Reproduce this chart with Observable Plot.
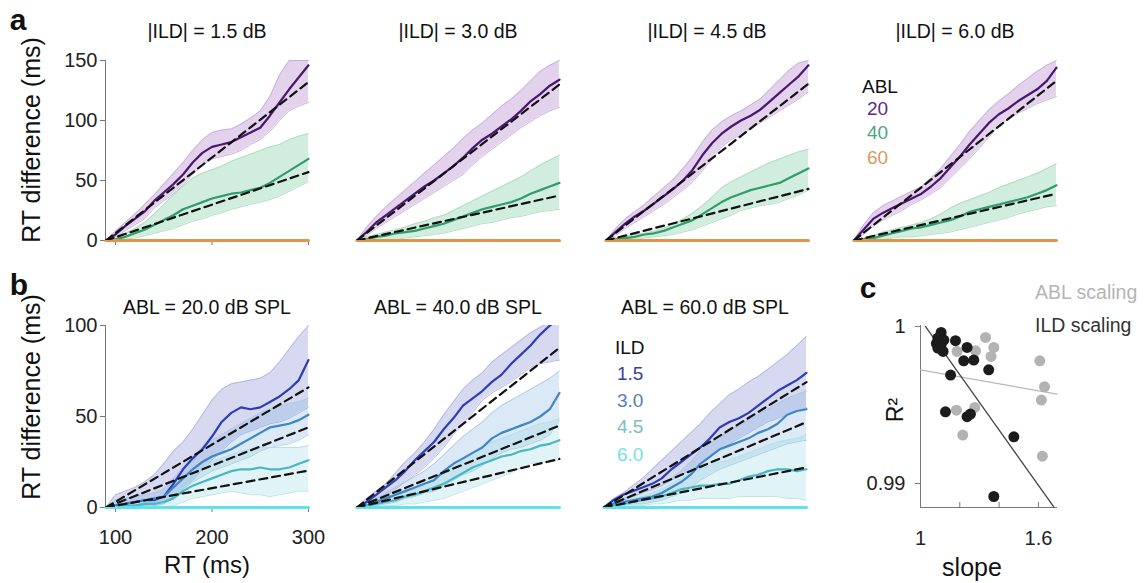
<!DOCTYPE html>
<html><head><meta charset="utf-8">
<script src="https://cdn.jsdelivr.net/npm/d3@7"></script>
<script src="https://cdn.jsdelivr.net/npm/@observablehq/plot@0.6"></script>
<style>
html,body{margin:0;padding:0;background:#fff;}
#fig{position:relative;width:1146px;height:583px;overflow:hidden;font-family:"Liberation Sans",Arial,Helvetica,sans-serif;color:#111;background:#fff;}
.t{position:absolute;white-space:nowrap;line-height:1;}
</style></head><body><div id="fig"></div>
<script>
// ---------------- DATA ----------------
const rt = [90,100,110,120,130,140,150,160,170,180,190,200,210,220,230,240,250,260,270,280,290,300];
const zeroLine = [0,0,0,0,0,0,0,0,0,0,0,0,0,0,0,0,0,0,0,0,0,0];
const fitRT = [90, 300];

// Panel a: |ILD| = 1.5, 3.0, 4.5, 6.0 ; ABL 20 (purple), 40 (green), 60 (orange, flat)
const aILD = ["1.5", "3.0", "4.5", "6.0"];
const ablLevels = ["20", "40", "60"];

const a15_20_mean = [0,5,12,18,24,33,40,47,55,65,73,78,80,82,86,90,94,104,115,126,136,146];
const a15_20_lo   = [0,3,8,13,18,27,33,39,46,55,63,68,70,72,75,80,84,91,100,108,112,115];
const a15_20_hi   = [0,8,15,22,30,38,47,56,65,75,84,90,92,93,97,102,108,120,138,150,150,150];
const a15_40_mean = [0,1,3,6,9,13,17,21,26,29,32,35,37,39,40,42,44,48,53,58,63,68];
const a15_40_lo   = [0,0,1,2,4,6,8,10,13,16,18,21,23,26,28,30,32,34,37,41,45,49];
const a15_40_hi   = [0,3,6,10,15,22,30,38,45,52,56,59,62,66,69,72,75,78,80,84,87,89];
const a15_fit20 = [0, 132];
const a15_fit40 = [0, 57];

const a30_20_mean = [0,7,15,21,27,33,39,45,50,56,62,69,77,84,89,95,101,108,116,122,129,134];
const a30_20_lo   = [0,4,10,15,20,25,30,35,40,45,50,55,63,70,76,82,88,94,99,104,108,111];
const a30_20_hi   = [0,11,20,28,35,42,49,56,63,70,77,85,92,98,105,112,118,125,133,141,146,150];
const a30_40_mean = [0,1,3,4,6,7,8,10,12,14,17,20,23,26,28,30,32,35,39,42,45,48];
const a30_40_lo   = [0,0,0,1,1,2,3,4,5,6,8,10,12,14,15,17,19,20,22,24,25,26];
const a30_40_hi   = [0,3,5,7,9,11,14,16,19,21,25,29,33,37,41,45,49,53,58,63,67,71];
const a30_fit20 = [0, 130];
const a30_fit40 = [0, 37.5];

const a45_20_mean = [0,7,14,20,25,31,37,43,50,59,71,81,89,95,100,104,109,116,123,130,137,146];
const a45_20_lo   = [0,4,10,15,20,25,30,36,42,49,58,68,78,84,88,93,98,103,108,113,118,124];
const a45_20_hi   = [0,10,18,24,30,37,44,51,60,70,82,92,99,104,108,113,118,126,134,142,148,150];
const a45_40_mean = [0,1,2,3,5,6,8,11,14,17,22,27,32,36,39,42,44,46,48,52,56,60];
const a45_40_lo   = [0,0,1,1,2,3,4,5,7,9,12,15,18,21,25,27,29,30,32,35,38,42];
const a45_40_hi   = [0,2,3,5,6,8,10,14,18,23,29,36,44,49,53,57,61,65,68,71,74,76];
const a45_fit20 = [0, 130.6];
const a45_fit40 = [0, 43];

const a60_20_mean = [0,9,18,23,27,31,35,39,45,52,61,70,80,89,98,105,110,116,121,126,133,144];
const a60_20_lo   = [0,5,12,17,21,25,30,34,39,44,52,60,68,77,86,96,101,106,110,114,117,120];
const a60_20_hi   = [0,13,23,29,33,37,41,45,52,60,70,80,91,100,109,116,122,129,135,141,146,150];
const a60_40_mean = [0,1,2,4,6,8,10,11,13,15,17,20,24,26,28,30,32,34,36,39,42,46];
const a60_40_lo   = [0,0,0,1,2,3,3,4,5,6,7,9,11,13,15,17,19,22,24,26,28,29];
const a60_40_hi   = [0,2,4,7,9,11,13,15,18,22,27,31,34,37,40,44,47,50,53,56,60,64];
const a60_fit20 = [0, 133];
const a60_fit40 = [0, 39];

// Panel b: ABL = 20, 40, 60 dB SPL ; ILD 1.5, 3.0, 4.5, 6.0 (flat)
const bABL = ["20.0", "40.0", "60.0"];
const ildLevels = ["1.5", "3.0", "4.5", "6.0"];

const b20_15_mean = [0,1,2,3,4,4,6,13,21,27,32,39,47,52,55,54,55,58,61,65,70,81];
const b20_15_lo   = [0,0,0,0,0,1,2,5,10,15,21,26,31,36,40,42,44,46,47,49,52,55];
const b20_15_hi   = [0,7,9,11,14,18,24,31,36,43,51,59,65,68,69,70,71,74,80,87,94,100];
const b20_30_mean = [0,1,2,3,4,5,6,11,16,21,25,28,30,32,35,38,41,44,45,46,48,51];
const b20_30_lo   = [0,0,0,0,1,2,3,6,10,14,17,20,22,24,26,28,31,33,34,35,37,40];
const b20_30_hi   = [0,4,5,6,7,8,10,16,22,28,33,37,40,43,46,49,52,54,56,57,58,60];
const b20_45_mean = [0,0,1,1,2,2,3,5,9,12,14,16,18,20,21,21,22,21,21,22,24,26];
const b20_45_lo   = [0,0,0,0,0,0,0,1,3,5,6,7,8,9,8,7,7,6,7,8,9,9];
const b20_45_hi   = [0,1,2,2,3,4,6,9,14,18,22,25,27,29,31,32,33,33,33,33,33,34];
const b20_fit15 = [0, 66];
const b20_fit30 = [0, 44];
const b20_fit45 = [0, 20.3];

const b40_15_mean = [0,3,7,11,15,20,26,31,36,43,49,56,60,64,69,73,79,84,89,95,100,104];
const b40_15_lo   = [0,1,3,6,10,14,18,22,27,33,40,46,52,59,63,66,69,73,77,79,80,81];
const b40_15_hi   = [0,5,9,13,19,25,30,36,43,51,58,65,70,74,80,84,88,92,96,99,102,104];
const b40_30_mean = [0,1,3,5,7,9,11,13,15,20,24,27,30,33,38,41,43,45,47,50,54,63];
const b40_30_lo   = [0,0,1,2,3,5,6,8,9,12,15,18,20,23,27,30,32,33,35,37,40,48];
const b40_30_hi   = [0,2,5,8,11,14,17,20,24,29,34,39,43,47,52,56,59,62,65,68,71,75];
const b40_45_mean = [0,1,2,3,4,6,7,9,11,13,16,19,22,24,26,28,29,31,32,34,35,37];
const b40_45_lo   = [0,0,0,1,1,2,2,3,4,5,7,9,11,13,15,17,19,22,24,25,25,26];
const b40_45_hi   = [0,2,3,5,6,8,10,13,16,19,22,26,30,33,36,38,40,42,44,46,47,49];
const b40_fit15 = [0, 87.7];
const b40_fit30 = [0, 45];
const b40_fit45 = [0, 26.7];

const b60_15_mean = [0,4,7,9,11,13,16,21,25,29,33,38,44,47,49,52,56,60,64,67,70,74];
const b60_15_lo   = [0,2,4,6,8,10,12,15,18,21,24,28,32,35,38,41,44,47,49,51,53,55];
const b60_15_hi   = [0,5,8,12,16,21,26,31,36,41,46,52,57,62,65,69,72,76,80,84,89,94];
const b60_30_mean = [0,2,3,4,5,6,8,11,14,18,24,28,32,34,36,38,41,43,46,51,53,54];
const b60_30_lo   = [0,0,1,2,2,3,4,6,8,11,15,18,21,23,25,27,29,31,33,35,36,37];
const b60_30_hi   = [0,3,5,6,8,10,12,16,20,25,31,35,39,42,45,48,51,54,57,60,62,64];
const b60_45_mean = [0,1,2,3,4,5,6,8,10,11,12,12,13,13,15,17,18,20,21,21,20,21];
const b60_45_lo   = [0,0,0,1,1,2,2,3,4,4,5,5,5,5,6,6,6,6,6,5,5,4];
const b60_45_hi   = [0,2,3,5,6,8,10,13,16,19,21,23,25,26,28,30,32,34,36,37,38,40];
const b60_fit15 = [0, 68.9];
const b60_fit30 = [0, 46.9];
const b60_fit45 = [0, 22];

// Panel c: slope vs R^2
const ildSlope = [1.105,1.088,1.119,1.081,1.105,1.088,1.115,1.178,1.237,1.220,1.271,1.347,1.153,1.127,1.237,1.254,1.475,1.373];
const ildR2    = [0.99962,0.99926,0.99913,0.99892,0.99883,0.99862,0.99841,0.99909,0.99866,0.99781,0.99786,0.99724,0.99690,0.99456,0.99425,0.99442,0.99297,0.98917];
const ablSlope = [1.331,1.373,1.186,1.280,1.359,1.607,1.631,1.615,1.183,1.276,1.215,1.620];
const ablR2    = [0.99930,0.99866,0.99841,0.99845,0.99809,0.99781,0.99616,0.99531,0.99467,0.99484,0.99308,0.99174];
const ablFitSlope = [1.0, 1.695];
const ablFitR2    = [0.99724, 0.99569];
const ildFitSlope = [1.025, 1.678];
const ildFitR2    = [1.0, 0.98851];

// Tick values
const aYTicks = [0, 50, 100, 150];
const bYTicks = [0, 50, 100];
const rtTicks = [100, 200, 300];
const cXLabelTicks = [1, 1.6];
const cXMinorTicks = [1.2, 1.4, 1.6];
const cYTicks = [0.99, 1];

// ---------------- STYLE ----------------
const FONT = '"Liberation Sans", Arial, Helvetica, sans-serif';
const AX = "#777", TXT = "#222";
const ablCol = {
  "20": {line:"#4b1670", band:"#b98fd0", op:0.4, edge:"#c9a9da", legend:"#5b2b83"},
  "40": {line:"#2f9c6b", band:"#7ccaa0", op:0.35, edge:"#a9d9bf", legend:"#4aa67f"},
  "60": {line:"#e39448", legend:"#d99a5c"}
};
const ildCol = {
  "1.5": {line:"#2c3db5", band:"#8c92d8", op:0.35, edge:"#aeb2dc", legend:"#3b3f9a"},
  "3.0": {line:"#3f86c6", band:"#7fb0e0", op:0.28, edge:"#a9c8e6", legend:"#5a7db5"},
  "4.5": {line:"#47b7c4", band:"#8fd4e0", op:0.28, edge:"#b3e0e8", legend:"#7bbcc4"},
  "6.0": {line:"#5fe2ea", legend:"#74e0e6"}
};

const fig = document.getElementById("fig");

function table(mean, lo, hi) {
  return rt.map((r, i) => ({rt: r, mean: mean[i], lo: lo[i], hi: hi[i]}));
}
function fitTable(vals) { return fitRT.map((r, i) => ({rt: r, v: vals[i]})); }
function flatTable(vals) { return rt.map((r, i) => ({rt: r, v: vals[i]})); }

function bandMarks(tab, c) {
  return [
    Plot.areaY(tab, {x: "rt", y1: "lo", y2: "hi", fill: c.band, fillOpacity: c.op, clip: true}),
    Plot.line(tab, {x: "rt", y: "lo", stroke: c.edge, strokeWidth: 0.9, clip: true}),
    Plot.line(tab, {x: "rt", y: "hi", stroke: c.edge, strokeWidth: 0.9, clip: true})
  ];
}
function meanMark(tab, c) {
  return Plot.line(tab, {x: "rt", y: "mean", stroke: c.line, strokeWidth: 2.2, clip: true});
}
function fitMark(vals) {
  return Plot.line(fitTable(vals), {x: "rt", y: "v", stroke: "#111", strokeWidth: 2.2, strokeDasharray: "8,5", clip: true});
}

function subplot({x0, x1, y0, y1, xdom, ydom, marks, axes, ml = 60, mr = 10, mt = 10, mb = 50}) {
  const p = Plot.plot({
    width: x1 - x0 + ml + mr, height: y1 - y0 + mt + mb,
    marginLeft: ml, marginRight: mr, marginTop: mt, marginBottom: mb,
    x: axes ? {domain: xdom} : {domain: xdom, axis: null},
    y: axes ? {domain: ydom} : {domain: ydom, axis: null},
    style: {fontFamily: FONT, background: "transparent", overflow: "visible"},
    marks
  });
  p.style.position = "absolute";
  p.style.left = (x0 - ml) + "px";
  p.style.top = (y0 - mt) + "px";
  fig.appendChild(p);
}

function txt(s, x, y, {size = 19, color = "#111", anchor = "middle", weight = "normal", rotate = 0} = {}) {
  const d = document.createElement("div");
  d.className = "t";
  d.textContent = s;
  d.style.left = x + "px";
  d.style.top = y + "px";
  d.style.fontSize = size + "px";
  d.style.color = color;
  d.style.fontWeight = weight;
  const tx = anchor === "middle" ? "-50%" : anchor === "end" ? "-100%" : "0";
  d.style.transform = `translate(${tx},-50%)` + (rotate ? ` rotate(${rotate}deg)` : "");
  fig.appendChild(d);
}

// ---------------- PANEL A ----------------
const aX0 = [105, 356, 605, 853];
const aW = 205;
const rtDom = [89.6, 302.1];
const aYDom = [0, 150];
const aData = [
  {m20: a15_20_mean, l20: a15_20_lo, h20: a15_20_hi, m40: a15_40_mean, l40: a15_40_lo, h40: a15_40_hi, f20: a15_fit20, f40: a15_fit40},
  {m20: a30_20_mean, l20: a30_20_lo, h20: a30_20_hi, m40: a30_40_mean, l40: a30_40_lo, h40: a30_40_hi, f20: a30_fit20, f40: a30_fit40},
  {m20: a45_20_mean, l20: a45_20_lo, h20: a45_20_hi, m40: a45_40_mean, l40: a45_40_lo, h40: a45_40_hi, f20: a45_fit20, f40: a45_fit40},
  {m20: a60_20_mean, l20: a60_20_lo, h20: a60_20_hi, m40: a60_40_mean, l40: a60_40_lo, h40: a60_40_hi, f20: a60_fit20, f40: a60_fit40}
];
aData.forEach((d, i) => {
  const t20 = table(d.m20, d.l20, d.h20);
  const t40 = table(d.m40, d.l40, d.h40);
  const axes = i === 0;
  const marks = [];
  if (axes) {
    marks.push(
      Plot.ruleX([rtDom[0]], {stroke: AX, strokeWidth: 1}),
      Plot.ruleY([aYDom[0]], {stroke: AX, strokeWidth: 1}),
      Plot.axisY({ticks: aYTicks, tickSize: 5, tickPadding: 3, fontSize: 20, label: null, stroke: AX, fill: TXT}),
      Plot.axisX({ticks: rtTicks, tickSize: 5, tickFormat: () => "", label: null, stroke: AX})
    );
  }
  marks.push(
    ...bandMarks(t20, ablCol["20"]),
    ...bandMarks(t40, ablCol["40"]),
    meanMark(t20, ablCol["20"]),
    meanMark(t40, ablCol["40"]),
    Plot.line(flatTable(zeroLine), {x: "rt", y: "v", stroke: ablCol["60"].line, strokeWidth: 3}),
    fitMark(d.f20),
    fitMark(d.f40)
  );
  subplot({x0: aX0[i], x1: aX0[i] + aW, y0: 60, y1: 240, xdom: rtDom, ydom: aYDom, marks, axes});
  txt(`|ILD| = ${aILD[i]} dB`, aX0[i] + 102, 32, {size: 19.5});
});

// ---------------- PANEL B ----------------
const bX0 = [105, 356, 603];
const bYDom = [0, 100];
const bData = [
  {s: [[b20_15_mean, b20_15_lo, b20_15_hi], [b20_30_mean, b20_30_lo, b20_30_hi], [b20_45_mean, b20_45_lo, b20_45_hi]], f: [b20_fit15, b20_fit30, b20_fit45]},
  {s: [[b40_15_mean, b40_15_lo, b40_15_hi], [b40_30_mean, b40_30_lo, b40_30_hi], [b40_45_mean, b40_45_lo, b40_45_hi]], f: [b40_fit15, b40_fit30, b40_fit45]},
  {s: [[b60_15_mean, b60_15_lo, b60_15_hi], [b60_30_mean, b60_30_lo, b60_30_hi], [b60_45_mean, b60_45_lo, b60_45_hi]], f: [b60_fit15, b60_fit30, b60_fit45]}
];
bData.forEach((d, i) => {
  const tabs = d.s.map(s => table(s[0], s[1], s[2]));
  const axes = i === 0;
  const marks = [];
  if (axes) {
    marks.push(
      Plot.ruleX([rtDom[0]], {stroke: AX, strokeWidth: 1}),
      Plot.ruleY([bYDom[0]], {stroke: AX, strokeWidth: 1}),
      Plot.axisY({ticks: bYTicks, tickSize: 5, tickPadding: 3, fontSize: 20, label: null, stroke: AX, fill: TXT}),
      Plot.axisX({ticks: rtTicks, tickSize: 5, tickPadding: 17, fontSize: 20, label: null, stroke: AX, fill: TXT})
    );
  }
  tabs.forEach((t, k) => marks.push(...bandMarks(t, ildCol[ildLevels[k]])));
  tabs.forEach((t, k) => marks.push(meanMark(t, ildCol[ildLevels[k]])));
  marks.push(Plot.line(flatTable(zeroLine), {x: "rt", y: "v", stroke: ildCol["6.0"].line, strokeWidth: 3}));
  d.f.forEach(f => marks.push(fitMark(f)));
  subplot({x0: bX0[i], x1: bX0[i] + 205, y0: 325, y1: 507, xdom: rtDom, ydom: bYDom, marks, axes});
  txt(`ABL = ${bABL[i]} dB SPL`, bX0[i] + 102, 308, {size: 19.5});
});

// ---------------- PANEL C ----------------
const cXDom = [1, 1.697];
const cYDom = [0.98847, 1.00006];
const ablPts = ablSlope.map((s, i) => ({slope: s, r2: ablR2[i]}));
const ildPts = ildSlope.map((s, i) => ({slope: s, r2: ildR2[i]}));
const ablFit = ablFitSlope.map((s, i) => ({slope: s, r2: ablFitR2[i]}));
const ildFit = ildFitSlope.map((s, i) => ({slope: s, r2: ildFitR2[i]}));
subplot({
  x0: 920, x1: 1057, y0: 325, y1: 507, xdom: cXDom, ydom: cYDom, axes: true, ml: 60, mr: 10, mt: 10, mb: 50,
  marks: [
    Plot.ruleX([cXDom[0]], {stroke: AX, strokeWidth: 1}),
    Plot.ruleY([cYDom[0]], {stroke: AX, strokeWidth: 1}),
    Plot.axisY({ticks: cYTicks, tickSize: 5, tickPadding: 10, fontSize: 20, label: null, stroke: AX, fill: TXT, tickFormat: d => String(d)}),
    Plot.axisX({ticks: cXLabelTicks, tickSize: 0, tickPadding: 23, fontSize: 20, label: null, fill: TXT, tickFormat: d => String(d)}),
    Plot.tickX(cXMinorTicks, {x: d => d, stroke: AX, insetTop: 177}),
    Plot.line(ablFit, {x: "slope", y: "r2", stroke: "#b8b8b8", strokeWidth: 1.3}),
    Plot.line(ildFit, {x: "slope", y: "r2", stroke: "#444", strokeWidth: 1.3}),
    Plot.dot(ablPts, {x: "slope", y: "r2", r: 5.5, fill: "#b3b3b3"}),
    Plot.dot(ildPts, {x: "slope", y: "r2", r: 5.5, fill: "#1c1c1c"})
  ]
});

// ---------------- TEXT ----------------
txt("a", 18, 20, {size: 30, weight: "bold"});
txt("b", 19, 285, {size: 30, weight: "bold"});
txt("c", 868, 288, {size: 30, weight: "bold"});
txt("RT difference (ms)", 31, 140, {size: 25, rotate: -90});
txt("RT difference (ms)", 31, 397, {size: 25, rotate: -90});
txt("RT (ms)", 207, 565, {size: 24});
// ABL legend (panel a)
txt("ABL", 862, 86, {size: 19, anchor: "start"});
[108, 132, 157].forEach((y, k) => txt(ablLevels[k], 867, y, {size: 19, anchor: "start", color: ablCol[ablLevels[k]].legend}));
// ILD legend (panel b)
txt("ILD", 615, 347, {size: 19, anchor: "start"});
[373, 400, 426, 454].forEach((y, k) => txt(ildLevels[k], 617, y, {size: 19, anchor: "start", color: ildCol[ildLevels[k]].legend}));
// Panel c legend & labels
txt("ABL scaling", 1035, 293, {size: 19.5, anchor: "start", color: "#b5b5b5"});
txt("ILD scaling", 1035, 326, {size: 19.5, anchor: "start", color: "#333"});
txt("R²", 895, 410, {size: 23, rotate: -90});
txt("slope", 972, 567, {size: 25});
</script></body></html>
